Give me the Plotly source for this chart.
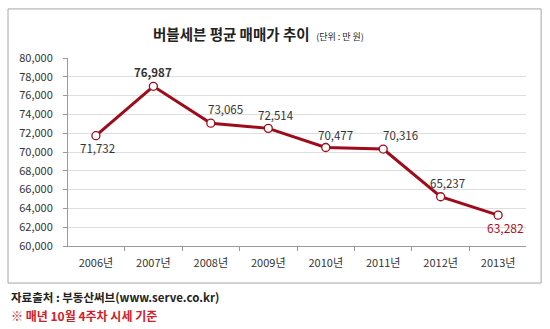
import plotly.graph_objects as go

years = ["2006년", "2007년", "2008년", "2009년", "2010년", "2011년", "2012년", "2013년"]
prices = [71732, 76987, 73065, 72514, 70477, 70316, 65237, 63282]
y_ticks = list(range(60000, 80001, 2000))

# value-label placement relative to each point (pixels)
label_dx = [2, 0, 15, 8, 10, 17, 7, 7]
label_dy = [-12, 14, 14, 13, 13, 14, 14, -12]

LINE = "#9e0b1a"
FONT = "Noto Sans CJK KR"

fig = go.Figure()
fig.add_trace(go.Scatter(
    x=years, y=prices,
    mode="lines+markers",
    line=dict(color=LINE, width=3),
    marker=dict(size=8, color="white", line=dict(color=LINE, width=1.3)),
    hoverinfo="skip",
))

last = len(prices) - 1
for i, (yr, v) in enumerate(zip(years, prices)):
    txt = f"{v:,}"
    if i == 1:
        txt = f"<b>{txt}</b>"
    color = "#b0101e" if i == last else "#333333"
    fig.add_annotation(
        x=yr, y=v, xref="x", yref="y", text=txt, showarrow=False,
        xshift=label_dx[i], yshift=label_dy[i],
        font=dict(family=FONT, size=12 if i == last else 11.5, color=color),
    )

fig.update_layout(
    width=550, height=329,
    margin=dict(l=68, r=24, t=58, b=83),
    paper_bgcolor="white", plot_bgcolor="white",
    showlegend=False,
    font=dict(family=FONT, color="#333333"),
    xaxis=dict(
        type="category",
        showgrid=False,
        showline=True, linecolor="#9a9a9a", linewidth=1,
        ticks="outside", tickson="boundaries", ticklen=4, tickcolor="#9a9a9a",
        ticklabelstandoff=7,
        tickfont=dict(family=FONT, size=11, color="#333333"),
        fixedrange=True,
    ),
    yaxis=dict(
        range=[60000, 80000],
        tickvals=y_ticks,
        tickformat=",d",
        showgrid=True, gridcolor="#dedede", gridwidth=1,
        showline=True, linecolor="#9a9a9a", linewidth=1,
        ticks="outside", ticklen=4, tickcolor="#9a9a9a",
        ticklabelstandoff=8,
        tickfont=dict(family=FONT, size=11, color="#333333"),
        zeroline=False,
        fixedrange=True,
    ),
)

# framed panel around title and chart
fig.add_shape(type="rect", xref="paper", yref="paper",
              x0=-0.131, x1=1.033, y0=-0.197, y1=1.261,
              line=dict(color="#a6a6a6", width=1), fillcolor="rgba(0,0,0,0)",
              layer="below")

fig.add_annotation(
    xref="paper", yref="paper", x=0.415, y=1.13, xanchor="center", yanchor="middle",
    text="<b>버블세븐 평균 매매가 추이</b>  <span style='font-size:9px'>(단위 : 만 원)</span>",
    showarrow=False, font=dict(family=FONT, size=14.5, color="#222222"),
)

fig.add_annotation(
    xref="paper", yref="paper", x=-0.128, y=-0.27, xanchor="left", yanchor="middle",
    text="<b>자료출처 : 부동산써브(www.serve.co.kr)</b>",
    showarrow=False, font=dict(family=FONT, size=11.5, color="#222222"),
)
fig.add_annotation(
    xref="paper", yref="paper", x=-0.128, y=-0.372, xanchor="left", yanchor="middle",
    text="<b>※ 매년 10월 4주차 시세 기준</b>",
    showarrow=False, font=dict(family=FONT, size=12, color="#d0202a"),
)

fig.write_html("out.html")
